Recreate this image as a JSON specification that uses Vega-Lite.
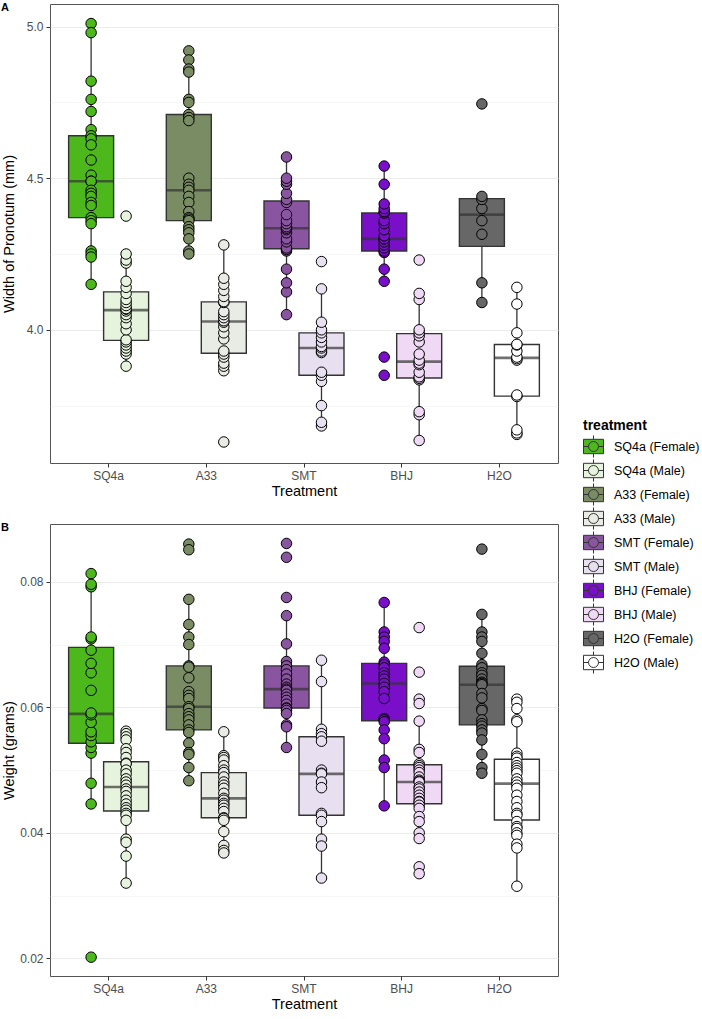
{
  "$schema": "https://vega.github.io/schema/vega-lite/v6.json",
  "padding": {"left": 0, "top": 1, "right": 0, "bottom": 0},
  "background": "white",
  "spacing": 61,
  "bounds": "flush",
  "resolve": {"scale": {"y": "independent"}},
  "config": {
    "font": "Liberation Sans",
    "view": {"stroke": "#555555", "strokeWidth": 1},
    "axis": {
      "domain": false,
      "gridColor": "#ebebeb",
      "gridWidth": 1.1,
      "tickColor": "#333333",
      "tickSize": 4,
      "labelColor": "#4d4d4d",
      "labelFontSize": 12,
      "labelPadding": 3,
      "titleFontSize": 14.5,
      "titleFontWeight": "normal",
      "titleColor": "#000000",
      "labelOverlap": false
    },
    "legend": {
      "orient": "none",
      "legendX": 533,
      "legendY": 415,
      "titleFontSize": 14,
      "titleFontWeight": "bold",
      "titleColor": "#000000",
      "labelFontSize": 12.5,
      "labelColor": "#000000",
      "symbolType": "M-1,-0.72H1V0.72H-1Z M-0.5,0A0.5,0.5 0 1,1 0.5,0A0.5,0.5 0 1,1 -0.5,0Z M0,-1.1V-0.72 M0,0.72V1.1 M-1,0H-0.5 M0.5,0H1",
      "symbolSize": 400,
      "symbolStrokeColor": "#333333",
      "symbolStrokeWidth": 1,
      "symbolOpacity": 1,
      "rowPadding": -4,
      "labelOffset": 10,
      "titlePadding": 3
    },
    "title": {"fontSize": 11, "fontWeight": "bold", "color": "#000000", "anchor": "start", "frame": "bounds", "offset": -9}
  },
  "datasets": {
    "pronotum": [
      {"t": "SQ4a", "s": "Female", "g": "SQ4a (Female)", "v": [5.01, 4.98, 4.82, 4.76, 4.72, 4.66, 4.64, 4.63, 4.61, 4.56, 4.51, 4.49, 4.49, 4.46, 4.45, 4.44, 4.42, 4.41, 4.37, 4.36, 4.35, 4.26, 4.25, 4.24, 4.15]},
      {"t": "SQ4a", "s": "Male", "g": "SQ4a (Male)", "v": [3.88, 3.92, 3.93, 3.94, 3.95, 3.96, 3.967, 4.0, 4.02, 4.04, 4.05, 4.062, 4.068, 4.07, 4.08, 4.09, 4.1, 4.12, 4.14, 4.16, 4.22, 4.23, 4.25, 4.375]},
      {"t": "A33", "s": "Female", "g": "A33 (Female)", "v": [4.92, 4.89, 4.86, 4.85, 4.76, 4.75, 4.71, 4.7, 4.69, 4.5, 4.48, 4.47, 4.46, 4.44, 4.42, 4.39, 4.37, 4.365, 4.36, 4.34, 4.33, 4.32, 4.3, 4.26, 4.25]},
      {"t": "A33", "s": "Male", "g": "A33 (Male)", "v": [3.63, 3.865, 3.88, 3.89, 3.91, 3.92, 3.93, 3.97, 3.99, 4.01, 4.025, 4.03, 4.04, 4.05, 4.06, 4.09, 4.093, 4.11, 4.13, 4.15, 4.17, 4.28]},
      {"t": "SMT", "s": "Female", "g": "SMT (Female)", "v": [4.05, 4.125, 4.155, 4.2, 4.26, 4.265, 4.27, 4.29, 4.3, 4.32, 4.33, 4.335, 4.34, 4.35, 4.36, 4.38, 4.42, 4.43, 4.45, 4.48, 4.49, 4.5, 4.57]},
      {"t": "SMT", "s": "Male", "g": "SMT (Male)", "v": [3.683, 3.695, 3.75, 3.83, 3.85, 3.86, 3.925, 3.93, 3.94, 3.945, 3.96, 3.975, 3.99, 4.0, 4.025, 4.135, 4.225]},
      {"t": "BHJ", "s": "Female", "g": "BHJ (Female)", "v": [3.85, 3.91, 4.16, 4.2, 4.255, 4.26, 4.27, 4.28, 4.29, 4.3, 4.3, 4.31, 4.33, 4.35, 4.36, 4.385, 4.39, 4.4, 4.415, 4.48, 4.54]},
      {"t": "BHJ", "s": "Male", "g": "BHJ (Male)", "v": [3.635, 3.72, 3.73, 3.835, 3.84, 3.845, 3.86, 3.885, 3.89, 3.9, 3.92, 3.96, 3.98, 3.99, 4.0, 4.1, 4.12, 4.23]},
      {"t": "H2O", "s": "Female", "g": "H2O (Female)", "v": [4.09, 4.155, 4.315, 4.36, 4.4, 4.43, 4.44, 4.745]},
      {"t": "H2O", "s": "Male", "g": "H2O (Male)", "v": [3.655, 3.66, 3.67, 3.78, 3.785, 3.9, 3.905, 3.91, 3.93, 3.95, 3.952, 3.99, 4.085, 4.14]}
    ],
    "weight": [
      {"t": "SQ4a", "s": "Female", "g": "SQ4a (Female)", "v": [0.0202, 0.0446, 0.0479, 0.0527, 0.0536, 0.0545, 0.0555, 0.0561, 0.0576, 0.0588, 0.0591, 0.0627, 0.0655, 0.067, 0.0691, 0.0709, 0.0712, 0.0792, 0.0796, 0.0813]},
      {"t": "SQ4a", "s": "Male", "g": "SQ4a (Male)", "v": [0.0562, 0.0558, 0.0553, 0.0548, 0.0534, 0.0528, 0.052, 0.0511, 0.051, 0.05, 0.0494, 0.0486, 0.0481, 0.0476, 0.047, 0.0466, 0.0459, 0.0452, 0.0446, 0.044, 0.0436, 0.0431, 0.0428, 0.042, 0.039, 0.0385, 0.0363, 0.032]},
      {"t": "A33", "s": "Female", "g": "A33 (Female)", "v": [0.086, 0.0851, 0.0772, 0.0732, 0.0712, 0.07, 0.0666, 0.0664, 0.0647, 0.0625, 0.0619, 0.0614, 0.0601, 0.0598, 0.059, 0.0585, 0.058, 0.0572, 0.0564, 0.056, 0.0543, 0.0528, 0.0525, 0.0504, 0.0483]},
      {"t": "A33", "s": "Male", "g": "A33 (Male)", "v": [0.0561, 0.0523, 0.052, 0.0516, 0.0507, 0.05, 0.0496, 0.0489, 0.0481, 0.0476, 0.0471, 0.0463, 0.0455, 0.0452, 0.0447, 0.0444, 0.0439, 0.0434, 0.0424, 0.0423, 0.042, 0.0402, 0.038, 0.0372, 0.0368]},
      {"t": "SMT", "s": "Female", "g": "SMT (Female)", "v": [0.0861, 0.0839, 0.0775, 0.0746, 0.0701, 0.0673, 0.0666, 0.066, 0.0653, 0.0645, 0.0637, 0.0632, 0.0629, 0.0627, 0.0621, 0.0616, 0.0611, 0.0605, 0.0599, 0.0598, 0.0595, 0.059, 0.0572, 0.0569, 0.0536]},
      {"t": "SMT", "s": "Male", "g": "SMT (Male)", "v": [0.0675, 0.0641, 0.0565, 0.0558, 0.0553, 0.0546, 0.05, 0.0495, 0.0494, 0.0481, 0.0472, 0.0431, 0.0428, 0.0418, 0.039, 0.0379, 0.0328]},
      {"t": "BHJ", "s": "Female", "g": "BHJ (Female)", "v": [0.0767, 0.072, 0.0712, 0.0705, 0.0694, 0.0672, 0.0668, 0.0663, 0.0655, 0.065, 0.0645, 0.0638, 0.0632, 0.0625, 0.0614, 0.0582, 0.058, 0.0577, 0.0564, 0.055, 0.0516, 0.0504, 0.0443]},
      {"t": "BHJ", "s": "Male", "g": "BHJ (Male)", "v": [0.0727, 0.0656, 0.0613, 0.0606, 0.0578, 0.0533, 0.0528, 0.051, 0.0507, 0.0504, 0.05, 0.0496, 0.0489, 0.0484, 0.0482, 0.0481, 0.0473, 0.047, 0.0465, 0.046, 0.0455, 0.045, 0.0449, 0.0444, 0.0439, 0.0426, 0.0418, 0.04, 0.0391, 0.0346, 0.0335]},
      {"t": "H2O", "s": "Female", "g": "H2O (Female)", "v": [0.0852, 0.0748, 0.072, 0.0712, 0.0705, 0.0686, 0.0668, 0.0663, 0.0655, 0.0651, 0.0645, 0.064, 0.0638, 0.0636, 0.0622, 0.0615, 0.0598, 0.0595, 0.058, 0.0574, 0.057, 0.0564, 0.0559, 0.0548, 0.0525, 0.0504, 0.0495]},
      {"t": "H2O", "s": "Male", "g": "H2O (Male)", "v": [0.0613, 0.0608, 0.0598, 0.058, 0.0577, 0.0527, 0.0522, 0.0519, 0.0512, 0.0507, 0.0503, 0.0499, 0.0495, 0.0486, 0.0481, 0.0476, 0.0471, 0.046, 0.045, 0.044, 0.0431, 0.0428, 0.0418, 0.041, 0.0407, 0.04, 0.0396, 0.0382, 0.0376, 0.0315]}
    ]
  },
  "vconcat": [
    {
      "title": {"text": "A"},
      "width": 508,
      "height": 459,
      "data": {"name": "pronotum"},
      "transform": [{"flatten": ["v"]}],
      "encoding": {
        "x": {"field": "t", "type": "nominal", "title": "Treatment",
          "scale": {"domain": ["SQ4a", "A33", "SMT", "BHJ", "H2O"], "paddingInner": 0, "paddingOuter": 0.1},
          "axis": {"labelAngle": 0, "bandPosition": 0.5, "titlePadding": 3}},
        "xOffset": {"field": "s", "type": "nominal", "scale": {"domain": ["Female", "Male"], "paddingInner": 0, "paddingOuter": 0.396}},
        "y": {"field": "v", "type": "quantitative", "title": "Width of Pronotum (mm)",
          "scale": {"domain": [3.5607, 5.0745], "nice": false, "zero": false},
          "axis": {"values": [3.75, 4, 4.25, 4.5, 4.75, 5], "titleX": -34,
            "labelExpr": "datum.value % 0.5 === 0 ? format(datum.value, '.1f') : ''",
            "tickOpacity": {"condition": {"test": "datum.value % 0.5 !== 0", "value": 0}, "value": 1},
            "gridWidth": {"condition": {"test": "datum.value % 0.5 !== 0", "value": 0.6}, "value": 1.1},
            "gridColor": {"condition": {"test": "datum.value % 0.5 !== 0", "value": "#f2f2f2"}, "value": "#ebebeb"}}},
        "color": {"field": "g", "type": "nominal", "title": "treatment",
          "scale": {"domain": ["SQ4a (Female)", "SQ4a (Male)", "A33 (Female)", "A33 (Male)", "SMT (Female)", "SMT (Male)", "BHJ (Female)", "BHJ (Male)", "H2O (Female)", "H2O (Male)"],
            "range": ["#4cb81b", "#e6f3dd", "#798c63", "#e9ebe5", "#8a55a0", "#e8e0f0", "#7a0fca", "#efd9f5", "#676767", "#ffffff"]}}
      },
      "layer": [
        {"mark": {"type": "boxplot", "extent": 1.5, "size": 45, "outliers": false,
          "box": {"stroke": "#333333", "strokeWidth": 1.4},
          "median": {"color": "#333333", "thickness": 2.6},
          "rule": {"color": "#333333", "strokeWidth": 1.3}}},
        {"mark": {"type": "point", "filled": true, "size": 110, "stroke": "#000000", "strokeWidth": 1, "opacity": 1}}
      ]
    },
    {
      "title": {"text": "B"},
      "width": 508,
      "height": 452,
      "data": {"name": "weight"},
      "transform": [{"flatten": ["v"]}],
      "encoding": {
        "x": {"field": "t", "type": "nominal", "title": "Treatment",
          "scale": {"domain": ["SQ4a", "A33", "SMT", "BHJ", "H2O"], "paddingInner": 0, "paddingOuter": 0.1},
          "axis": {"labelAngle": 0, "bandPosition": 0.5, "titlePadding": 3}},
        "xOffset": {"field": "s", "type": "nominal", "scale": {"domain": ["Female", "Male"], "paddingInner": 0, "paddingOuter": 0.396}},
        "y": {"field": "v", "type": "quantitative", "title": "Weight (grams)",
          "scale": {"domain": [0.0172, 0.0892], "nice": false, "zero": false},
          "axis": {"values": [0.02, 0.03, 0.04, 0.05, 0.06, 0.07, 0.08], "titleX": -34,
            "labelExpr": "round(datum.value * 100) % 2 === 0 ? format(datum.value, '.2f') : ''",
            "tickOpacity": {"condition": {"test": "round(datum.value * 100) % 2 === 1", "value": 0}, "value": 1},
            "gridWidth": {"condition": {"test": "round(datum.value * 100) % 2 === 1", "value": 0.6}, "value": 1.1},
            "gridColor": {"condition": {"test": "round(datum.value * 100) % 2 === 1", "value": "#f2f2f2"}, "value": "#ebebeb"}}},
        "color": {"field": "g", "type": "nominal", "title": "treatment",
          "scale": {"domain": ["SQ4a (Female)", "SQ4a (Male)", "A33 (Female)", "A33 (Male)", "SMT (Female)", "SMT (Male)", "BHJ (Female)", "BHJ (Male)", "H2O (Female)", "H2O (Male)"],
            "range": ["#4cb81b", "#e6f3dd", "#798c63", "#e9ebe5", "#8a55a0", "#e8e0f0", "#7a0fca", "#efd9f5", "#676767", "#ffffff"]}}
      },
      "layer": [
        {"mark": {"type": "boxplot", "extent": 1.5, "size": 45, "outliers": false,
          "box": {"stroke": "#333333", "strokeWidth": 1.4},
          "median": {"color": "#333333", "thickness": 2.6},
          "rule": {"color": "#333333", "strokeWidth": 1.3}}},
        {"mark": {"type": "point", "filled": true, "size": 110, "stroke": "#000000", "strokeWidth": 1, "opacity": 1}}
      ]
    }
  ]
}
